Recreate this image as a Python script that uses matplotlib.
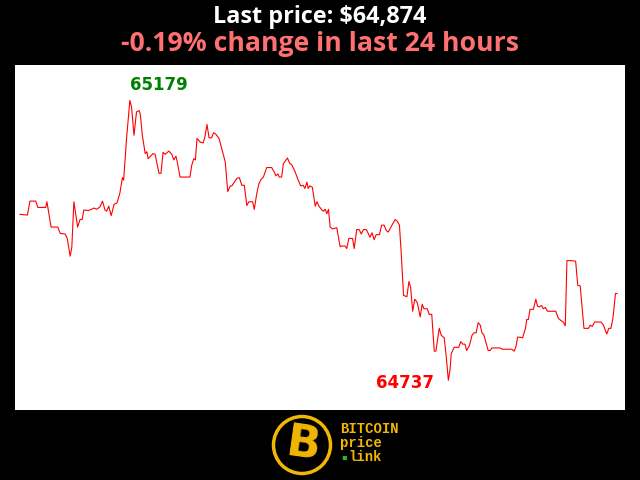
import matplotlib
matplotlib.use("Agg")
import matplotlib.pyplot as plt
from matplotlib.patches import Circle

# minutes since start of 24h window
minutes = [0, 18, 24, 38, 43, 62, 65, 75, 91, 97, 109, 114, 121, 125, 130, 139, 145, 150, 154, 165,
           179, 185, 193, 199, 205, 209, 214, 220, 227, 234, 241, 247, 250, 257, 265, 269, 275, 281, 287, 290,
           295, 302, 306, 309, 321, 326, 335, 340, 345, 350, 359, 366, 371, 376, 379, 386, 410, 414, 419, 423,
           427, 435, 442, 446, 451, 456, 462, 467, 472, 480, 488, 495, 501, 507, 511, 523, 529, 535, 541, 547,
           552, 561, 565, 571, 576, 581, 587, 595, 607, 613, 617, 622, 625, 631, 635, 645, 651, 655, 663, 671,
           677, 683, 687, 692, 695, 699, 705, 712, 716, 721, 728, 732, 736, 740, 744, 748, 754, 764, 772, 776,
           784, 788, 793, 802, 806, 812, 818, 823, 828, 835, 839, 844, 849, 854, 859, 867, 872, 878, 883, 888,
           897, 905, 910, 915, 919, 925, 933, 938, 942, 947, 952, 957, 960, 965, 970, 974, 982, 987, 993, 999,
           1003, 1011, 1016, 1023, 1028, 1033, 1037, 1040, 1047, 1058, 1063, 1068, 1073, 1077, 1084, 1090, 1095, 1100, 1105, 1110,
           1114, 1119, 1129, 1134, 1138, 1158, 1163, 1186, 1192, 1196, 1200, 1206, 1212, 1219, 1222, 1226, 1230, 1238, 1244, 1248,
           1253, 1258, 1262, 1267, 1272, 1292, 1298, 1305, 1310, 1315, 1319, 1329, 1340, 1345, 1351, 1360, 1371, 1375, 1380, 1386,
           1401, 1407, 1415, 1420, 1425, 1430, 1436, 1440]
prices = [64999, 64998, 65020, 65020, 65010, 65010, 65019, 64979, 64979, 64969, 64968, 64961, 64933, 64947, 65019, 64979, 64991, 64991, 65006, 65005,
          65009, 65007, 65011, 65020, 65006, 65004, 65012, 64997, 65015, 65017, 65033, 65057, 65053, 65119, 65179, 65169, 65124, 65161, 65163, 65158,
          65124, 65095, 65098, 65087, 65095, 65094, 65064, 65064, 65097, 65094, 65099, 65094, 65085, 65091, 65083, 65058, 65058, 65076, 65087, 65085,
          65119, 65113, 65112, 65122, 65141, 65120, 65120, 65128, 65126, 65119, 65099, 65082, 65035, 65044, 65044, 65056, 65057, 65045, 65045, 65013,
          65019, 65019, 65007, 65032, 65047, 65054, 65058, 65073, 65073, 65066, 65060, 65063, 65058, 65058, 65079, 65088, 65079, 65078, 65067, 65053,
          65044, 65045, 65040, 65050, 65040, 65044, 65042, 65012, 65019, 65012, 65006, 65004, 65007, 65000, 65007, 64979, 64976, 64978, 64948, 64949,
          64949, 64945, 64961, 64961, 64945, 64975, 64975, 64968, 64975, 64975, 64970, 64963, 64970, 64959, 64967, 64967, 64982, 64982, 64974, 64971,
          64982, 64991, 64988, 64982, 64942, 64871, 64869, 64893, 64884, 64846, 64865, 64861, 64854, 64837, 64857, 64850, 64850, 64841, 64841, 64783,
          64783, 64819, 64808, 64804, 64774, 64737, 64753, 64779, 64789, 64789, 64798, 64794, 64794, 64784, 64792, 64808, 64812, 64812, 64828, 64824,
          64812, 64808, 64784, 64784, 64788, 64788, 64786, 64786, 64783, 64790, 64805, 64805, 64804, 64819, 64833, 64833, 64849, 64849, 64865, 64854,
          64853, 64855, 64850, 64852, 64846, 64846, 64835, 64831, 64829, 64823, 64926, 64926, 64925, 64887, 64886, 64819, 64819, 64824, 64822, 64829,
          64829, 64824, 64810, 64819, 64819, 64835, 64874, 64874]

title_line1 = "Last price: $64,874"
title_line2 = "-0.19% change in last 24 hours"
logo_words = ["BITCOIN", "price", "link"]

fig = plt.figure(figsize=(6.4, 4.8), dpi=100, facecolor="black")
ax = fig.add_axes([15/640, 70/480, 610/640, 345/480])
ax.set_facecolor("white")
ax.plot(minutes, prices, color="#ff0000", linewidth=0.8)
ax.set_xlim(-12, 1459)
ax.set_ylim(64690, 65235)
ax.set_xticks([])
ax.set_yticks([])
for s in ax.spines.values():
    s.set_visible(False)

imax = prices.index(max(prices))
imin = prices.index(min(prices))
ax.annotate(str(max(prices)), (minutes[imax], prices[imax]), xytext=(0, 5), textcoords="offset points",
            ha="left", va="bottom", color="#008000", fontsize=12, fontweight="bold", family="DejaVu Sans")
ax.annotate(str(min(prices)), (minutes[imin], prices[imin]), xytext=(-10, -2), textcoords="offset points",
            ha="right", va="center", color="#ff0000", fontsize=12, fontweight="bold", family="DejaVu Sans")

fig.text(0.5, 1 - 17/480, title_line1, ha="center", va="center", color="white",
         fontsize=16.8, fontweight="bold", family="Open Sans")
fig.text(0.5, 1 - 44/480, title_line2, ha="center", va="center", color="#ff7070",
         fontsize=19.2, fontweight="bold", family="Open Sans")

# logo
lax = fig.add_axes([270/640, 3/480, 64/640, 64/480])
lax.set_xlim(-32, 32)
lax.set_ylim(-32, 32)
lax.set_aspect("equal")
lax.axis("off")
gold = "#f2b705"
lax.add_patch(Circle((0, 0), 28.5, facecolor="none", edgecolor=gold, linewidth=2.5))
lax.text(1, 0, "B", ha="center", va="center", color=gold, fontsize=32, fontweight="bold",
         family="DejaVu Sans", rotation=-8)
fig.text(340/640, 1 - 429/480, logo_words[0], ha="left", va="center", color=gold,
         fontsize=10, fontweight="bold", family="Liberation Mono")
fig.text(340/640, 1 - 443/480, logo_words[1], ha="left", va="center", color=gold,
         fontsize=10, fontweight="bold", family="Liberation Mono")
fig.text(348/640, 1 - 457/480, logo_words[2], ha="left", va="center", color=gold,
         fontsize=10, fontweight="bold", family="Liberation Mono")
fig.text(344/640, 1 - 457/480, "\u25aa", ha="center", va="center", color="#2db52d", fontsize=6)

fig.savefig("out.png", dpi=100, facecolor="black")
